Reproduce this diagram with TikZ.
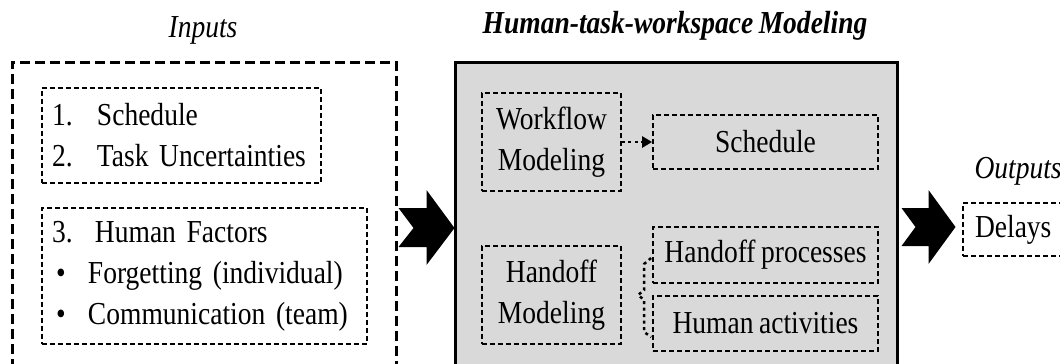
\documentclass[tikz,border=0pt]{standalone}
\usepackage{fontspec}
\setmainfont{Liberation Serif}[FakeStretch=0.86, WordSpace=0.8]
\usetikzlibrary{arrows.meta,calc}
\begin{document}
\begin{tikzpicture}[x=1pt,y=-1pt,
  txt/.style={font=\fontsize{32}{41}\selectfont},
  bigdash/.style={draw, line width=3pt, dash pattern=on 10pt off 5pt, rectangle, inner sep=0pt},
  dbox/.style={draw, line width=1.8pt, dash pattern=on 5pt off 3pt, rectangle, inner sep=0pt, txt},
  dotconn/.style={line width=2.8pt, dash pattern=on 3pt off 3.5pt},
  blockarrow/.style={fill=black}
]
\useasboundingbox (0,0) rectangle (1060,364);
\clip (0,0) rectangle (1060,364);

% titles
\node[txt, anchor=base] (ti) at (203,37) {\itshape Inputs};
\node[txt, anchor=base] (tt) at (675,33) {\bfseries\itshape Human-task-workspace Modeling};
\node[txt, anchor=base west] (to) at (971,178) {\itshape Outputs};

% big containers
\node[bigdash, minimum width=384, minimum height=330] (inp) at (204,227) {};
\node[draw, fill=black!15, line width=3pt, rectangle, inner sep=0pt, minimum width=442, minimum height=330] (htw) at (676,227) {};

% inputs
\node[dbox, text width=259, inner xsep=10pt, minimum height=95, align=left] (in1) at (181.5,135.5)
  {\makebox[45pt][l]{1.}Schedule\\\makebox[45pt][l]{2.}Task Uncertainties};
\node[dbox, text width=305, inner xsep=10pt, minimum height=136, align=left] (in2) at (204.5,276)
  {\makebox[43pt][l]{3.}Human Factors\\\makebox[36pt][l]{\hspace{4pt}\textbullet}Forgetting (individual)\\\makebox[36pt][l]{\hspace{4pt}\textbullet}Communication (team)};

% modeling
\node[dbox, minimum width=139, minimum height=98, align=center] (wf) at (551.5,142) {Workflow\\Modeling};
\node[dbox, minimum width=225, minimum height=54] (sch) at (765.5,142) {Schedule};
\node[dbox, minimum width=139, minimum height=98, align=center] (hm) at (551.5,295) {Handoff\\Modeling};
\node[dbox, minimum width=225, minimum height=56] (hp) at (765.5,255) {Handoff processes};
\node[dbox, minimum width=225, minimum height=55] (ha) at (765.5,323.5) {Human activities};

% outputs
\node[dbox, text width=88, inner xsep=12pt, minimum height=53, align=left] (del) at (1019,229.5) {Delays};

% connectors
\draw[dotconn, -{Triangle[length=10pt,width=11pt]}] (wf.east) -- (sch.west);
\draw[dotconn, line width=2.5pt] ($(hp.west)+(-1,3)$) -- ++(-7,6) -- ++(0,26) -- ++(-6,5) -- ++(6,5) -- ++(0,32) -- ++(7,5);

% block arrows
\coordinate (a1) at ($(inp.east)+(1,1)$);
\fill[blockarrow] ($(a1)+(0,-20)$) -- ++(28,0) -- ++(0,-18) -- ++(28,38) -- ++(-28,37) -- ++(0,-18) -- ++(-28,0) -- ++(15,-19) -- cycle;
\coordinate (a2) at ($(htw.east)+(3,0)$);
\fill[blockarrow] ($(a2)+(0,-19)$) -- ++(27,0) -- ++(0,-18) -- ++(27,37) -- ++(-27,37) -- ++(0,-18) -- ++(-27,0) -- ++(14,-19) -- cycle;
\end{tikzpicture}
\end{document}
